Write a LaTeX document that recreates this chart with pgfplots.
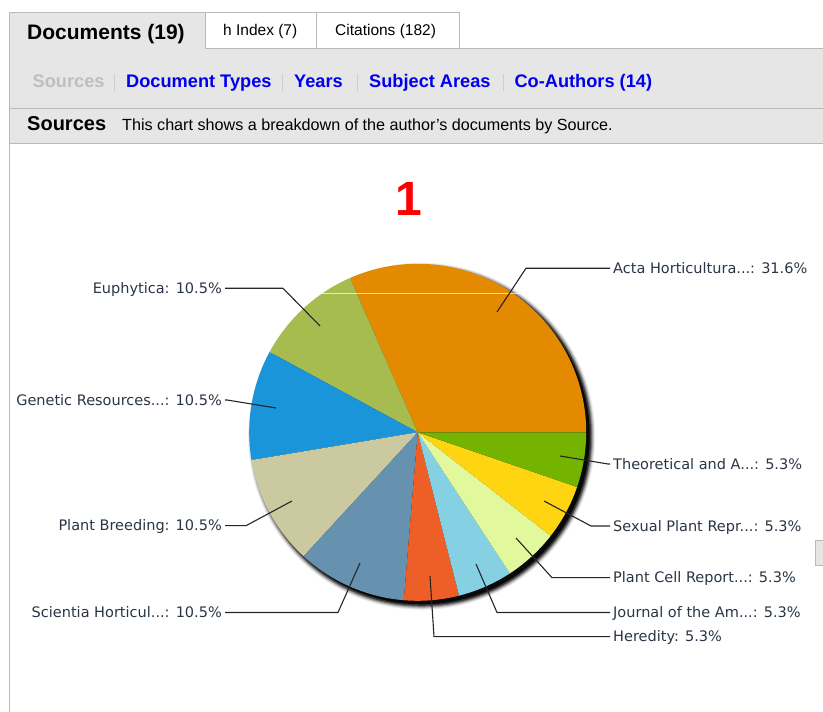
\documentclass[border=0pt]{standalone}
\usepackage{pgfplots}
\pgfplotsset{compat=1.18}
\usepackage{pgfplotstable}
\usepackage{fontspec}
\setmainfont{Liberation Sans}
\newfontfamily\labelfont{DejaVu Sans}

% slice colours, in table order
\definecolor{slice0}{RGB}{227,138,0}
\definecolor{slice1}{RGB}{166,188,79}
\definecolor{slice2}{RGB}{27,149,217}
\definecolor{slice3}{RGB}{203,201,159}
\definecolor{slice4}{RGB}{102,146,176}
\definecolor{slice5}{RGB}{238,95,40}
\definecolor{slice6}{RGB}{134,208,227}
\definecolor{slice7}{RGB}{226,248,156}
\definecolor{slice8}{RGB}{254,213,16}
\definecolor{slice9}{RGB}{116,179,0}
\definecolor{barbg}{RGB}{230,230,230}
\definecolor{edge}{RGB}{185,185,185}
\definecolor{navgray}{RGB}{190,190,190}
\definecolor{navblue}{RGB}{0,0,238}
\definecolor{labeltext}{RGB}{42,54,70}

% documents per source; ax/ay = leader start, bx/by = elbow, ex = leader end (pixels)
\pgfplotstableread[col sep=comma]{
source,docs,share,ax,ay,bx,by,ex
Acta Horticultura...,6,31.6,497,312,526,268.3,610
Euphytica,2,10.5,320,326,283,288.3,225
Genetic Resources...,2,10.5,276,408,227,400,225
Plant Breeding,2,10.5,292,501,246,525.7,225
Scientia Horticul...,2,10.5,360,563,338,612.5,225
Heredity,1,5.3,430,576,434,636.7,610
Journal of the Am...,1,5.3,476,564,497,612.5,610
Plant Cell Report...,1,5.3,516,538,552,577.7,610
Sexual Plant Repr...,1,5.3,544,501,591,526,610
Theoretical and A...,1,5.3,560,456,608,464,610
}\sources

\begin{document}
\begin{tikzpicture}[x=1bp,y=1bp]
\path[use as bounding box] (0,0) rectangle (823,712);

% start / end angle of every slice
\gdef\cum{0}
\foreach \i in {0,...,9}{
  \pgfplotstablegetelem{\i}{docs}\of\sources
  \pgfmathsetmacro\tmpa{\cum*360/19}
  \pgfmathsetmacro\tmpc{\cum+\pgfplotsretval}
  \pgfmathsetmacro\tmpb{\tmpc*360/19}
  \expandafter\xdef\csname sa\i\endcsname{\tmpa}
  \expandafter\xdef\csname ea\i\endcsname{\tmpb}
  \xdef\cum{\tmpc}
}

% page chrome
\fill[white] (0,0) rectangle (823,712);
\fill[barbg] (9,712-12) rectangle (205,712-49);
\fill[barbg] (9,712-48.5) rectangle (823,712-143.3);
\filldraw[fill=white, draw=edge] (205,712-12) rectangle (316,712-48.5);
\filldraw[fill=white, draw=edge] (316,712-12) rectangle (459,712-48.5);
\draw[edge] (9,0) -- (9,712-12) -- (205,712-12) -- (205,712-48.5) -- (823,712-48.5);
\draw[edge, line width=1.6] (9,712-108.5) -- (823,712-108.5);
\draw[edge, line width=1.2] (9,712-143.3) -- (823,712-143.3);
\filldraw[fill=barbg, draw=edge] (815,712-540) rectangle (830,712-565);

\node[anchor=base west, inner sep=0, font=\bfseries\fontsize{21bp}{24bp}\selectfont] at (27,712-40) {Documents (19)};
\node[anchor=base west, inner sep=0, font=\fontsize{15.5bp}{18bp}\selectfont] at (223,712-36) {h Index (7)};
\node[anchor=base west, inner sep=0, font=\fontsize{15.5bp}{18bp}\selectfont] at (335,712-36) {Citations (182)};

\begin{scope}[every node/.style={anchor=base west, inner sep=0, font=\bfseries\fontsize{18.2bp}{20bp}\selectfont, text=navblue}]
\node[text=navgray] at (32.5,712-87.3) {Sources};
\node at (126,712-87.3) {Document Types};
\node at (294,712-87.3) {Years};
\node at (369,712-87.3) {Subject Areas};
\node at (514.4,712-87.3) {Co-Authors (14)};
\end{scope}
\foreach \sx in {114.4,282.4,357,503}{\draw[edge!70] (\sx,712-74) -- (\sx,712-91);}

\node[anchor=base west, inner sep=0, font=\bfseries\fontsize{20bp}{23bp}\selectfont] at (27,712-131) {Sources};
\node[anchor=base west, inner sep=0, font=\fontsize{16.15bp}{19bp}\selectfont] at (122,712-131) {This chart shows a breakdown of the author's documents by Source.};

\node[anchor=base, inner sep=0, text=red, font=\bfseries\fontsize{48bp}{50bp}\selectfont] at (409,712-215.3) {1};

% drop shadow: dark core, soft rim
\foreach \rr/\op in {173.5/0.07,172.5/0.12,171.5/0.2,170.5/0.3,169.5/0.5,168/0.85}{
  \fill[black, opacity=\op] (421.7,275.7) circle[radius=\rr];
}

\begin{axis}[
    hide axis,
    x=168.5bp, y=168.5bp,
    xmin=-1, xmax=1, ymin=-1, ymax=1,
    at={(417.7bp,279.7bp)}, anchor=center,
    clip=false,
]
\pgfplotsinvokeforeach{0,...,9}{
  \fill[slice#1] (axis cs:0,0)
    -- (axis cs:{cos(\csname sa#1\endcsname)},{sin(\csname sa#1\endcsname)})
    arc[start angle=\csname sa#1\endcsname, end angle=\csname ea#1\endcsname, radius=1]
    -- cycle;
}
\end{axis}

\draw[white, line width=1, opacity=0.7] (318,712-293.5) -- (586,712-293.5);

% leader lines and labels
\foreach \i in {0,...,9}{
  \pgfplotstablegetelem{\i}{source}\of\sources \let\src\pgfplotsretval
  \pgfplotstablegetelem{\i}{share}\of\sources \let\shr\pgfplotsretval
  \pgfplotstablegetelem{\i}{ax}\of\sources \let\ax\pgfplotsretval
  \pgfplotstablegetelem{\i}{ay}\of\sources \let\ay\pgfplotsretval
  \pgfplotstablegetelem{\i}{bx}\of\sources \let\bx\pgfplotsretval
  \pgfplotstablegetelem{\i}{by}\of\sources \let\by\pgfplotsretval
  \pgfplotstablegetelem{\i}{ex}\of\sources \let\ex\pgfplotsretval
  \draw[black!85, line width=1.1] (\ax,712-\ay) -- (\bx,712-\by) -- (\ex,712-\by);
  \ifdim\ex pt>400pt
    \node[anchor=base west, inner sep=0, text=labeltext, font=\labelfont\fontsize{14.5bp}{16bp}\selectfont] at (\ex+3,712-\by-5.2) {\src: \shr\%};
  \else
    \node[anchor=base east, inner sep=0, text=labeltext, font=\labelfont\fontsize{14.5bp}{16bp}\selectfont] at (\ex-3,712-\by-5.2) {\src: \shr\%};
  \fi
}
\end{tikzpicture}
\end{document}
